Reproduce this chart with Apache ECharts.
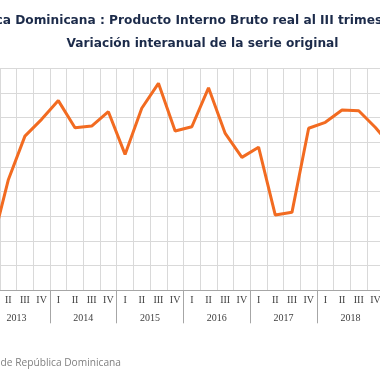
<!DOCTYPE html>
<html>
<head>
<meta charset="utf-8">
<script src="https://cdn.jsdelivr.net/npm/echarts@6/dist/echarts.min.js"></script>
<style>
html,body{margin:0;padding:0;width:380px;height:380px;overflow:hidden;background:#fff;}
#chart{position:absolute;left:-60px;top:0;width:525px;height:380px;}
</style>
</head>
<body>
<div id="chart"></div>
<script>
// Data (year-on-year % change, quarterly)
var years = ['2013', '2014', '2015', '2016', '2017', '2018'];
var quarters = ['I', 'II', 'III', 'IV'];
var extraQuarters = ['I']; // 2019-I, only its first segment is visible at the right edge
var values = [
  1.77, 4.47, 6.25, 6.93,   // 2013
  7.69, 6.59, 6.66, 7.24,   // 2014
  5.51, 7.38, 8.39, 6.46,   // 2015
  6.63, 8.21, 6.36, 5.39,   // 2016
  5.80, 3.05, 3.16, 6.57,   // 2017
  6.81, 7.31, 7.28, 6.60,   // 2018
  5.80                      // 2019-I
];
var yTicks = [0, 1, 2, 3, 4, 5, 6, 7, 8, 9];
var titleLines = ['República Dominicana : Producto Interno Bruto real al III trimestre de 2018', 'Variación interanual de la serie original'];
var sourceText = 'Fuente: Banco Central de República Dominicana';

var quarterLabels = [];
years.forEach(function () { quarters.forEach(function (q) { quarterLabels.push(q); }); });
extraQuarters.forEach(function (q) { quarterLabels.push(q); });

var band = 16.69;
var gridLeft = 43.2;
var chart = echarts.init(document.getElementById('chart'), null, {renderer: 'canvas'});
chart.setOption({
  animation: false,
  backgroundColor: '#ffffff',
  title: {
    text: titleLines.join('\n'),
    left: 'center',
    top: 4,
    textStyle: {fontFamily: 'DejaVu Sans', fontWeight: 'bold', fontSize: 12.2, color: '#1c2b4a', lineHeight: 23}
  },
  graphic: [{
    type: 'text',
    x: 181, y: 363,
    style: {text: sourceText, fill: '#808080', font: '10.2px "Open Sans"', textAlign: 'right', textVerticalAlign: 'middle'}
  }],
  grid: [
    {left: gridLeft, top: 68.3, width: band * quarterLabels.length, height: 222},
    {left: gridLeft, top: 68.3, width: band * years.length * 4, height: 222}
  ],
  xAxis: [{
    gridIndex: 0,
    type: 'category',
    data: quarterLabels,
    boundaryGap: true,
    axisLine: {show: true, lineStyle: {color: '#a6a6a6', width: 1}},
    axisTick: {show: false},
    axisLabel: {interval: 0, margin: 5, fontFamily: 'Liberation Serif', fontSize: 10, color: '#404040'},
    splitLine: {show: true, interval: 0, lineStyle: {color: '#d9d9d9', width: 1}}
  }, {
    gridIndex: 1,
    type: 'category',
    data: years,
    boundaryGap: true,
    axisLine: {show: false},
    axisTick: {show: true, interval: 0, length: 33, lineStyle: {color: '#a6a6a6', width: 1}},
    axisLabel: {interval: 0, margin: 23, fontFamily: 'Liberation Serif', fontSize: 10, color: '#404040'},
    splitLine: {show: false}
  }],
  yAxis: [{
    gridIndex: 0,
    type: 'value',
    min: yTicks[0],
    max: yTicks[yTicks.length - 1],
    interval: 1,
    axisLine: {show: false},
    axisTick: {show: false},
    axisLabel: {show: false},
    splitLine: {show: true, lineStyle: {color: '#d9d9d9', width: 1}}
  }, {
    gridIndex: 1,
    type: 'value',
    show: false,
    min: 0, max: 9
  }],
  series: [{
    type: 'line',
    xAxisIndex: 0,
    yAxisIndex: 0,
    data: values,
    symbol: 'none',
    lineStyle: {color: '#f26b21', width: 3},
    itemStyle: {color: '#f26b21'}
  }]
});
</script>
</body>
</html>
